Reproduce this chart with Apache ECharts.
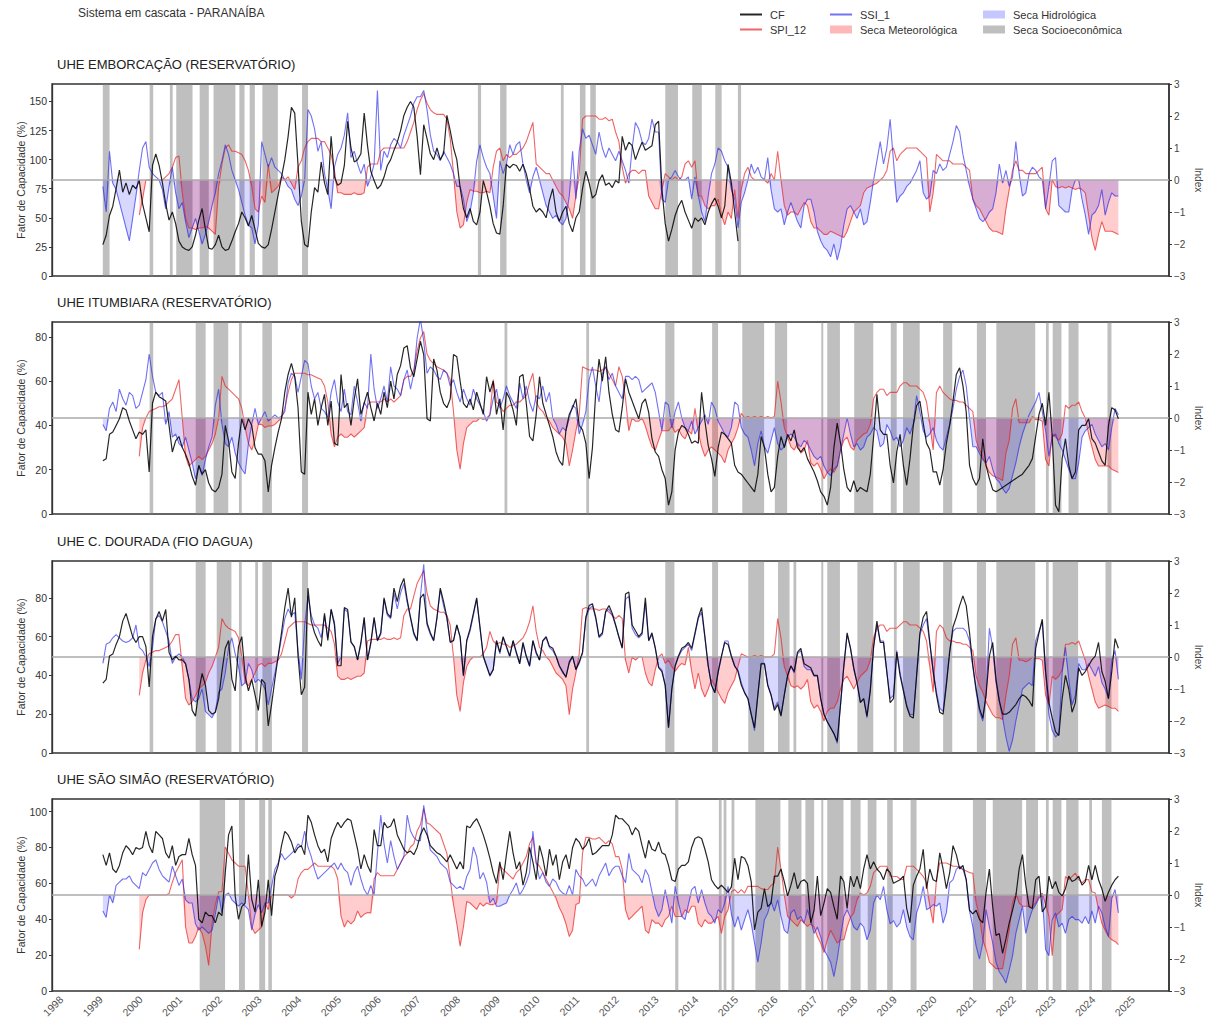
<!DOCTYPE html>
<html>
<head>
<meta charset="utf-8">
<title>Sistema em cascata - PARANAÍBA</title>
<script src="https://cdn.jsdelivr.net/npm/echarts@6/dist/echarts.min.js"></script>
<style>
  html, body { margin: 0; padding: 0; background: #ffffff; }
  #chart { width: 1218px; height: 1025px; }
</style>
</head>
<body>
<div id="chart"></div>
<script>
// ---------------------------------------------------------------------------
// Monthly series. CF and SSI_1 start Jan 1999, SPI_12 starts Dec 1999;
// all end Aug 2024 (Emborcação CF ends Jan 2015).
// ---------------------------------------------------------------------------

const xYears = [1998, 1999, 2000, 2001, 2002, 2003, 2004, 2005, 2006, 2007, 2008, 2009, 2010,
  2011, 2012, 2013, 2014, 2015, 2016, 2017, 2018, 2019, 2020, 2021, 2022, 2023, 2024, 2025];
const indexTicks = [-3, -2, -1, 0, 1, 2, 3];
const cfTicks1 = [0, 25, 50, 75, 100, 125, 150];
const cfTicks2 = [0, 20, 40, 60, 80];
const cfTicks3 = [0, 20, 40, 60, 80];
const cfTicks4 = [0, 20, 40, 60, 80, 100];

// UHE EMBORCAÇÃO
const p1Cf = [
  27,35,52,60,75,91,72,80,70,78,75,82,
  62,50,38,95,105,95,80,62,48,55,45,30,
  25,23,22,25,35,48,58,40,24,23,27,35,
  25,22,23,30,38,45,55,50,43,52,40,28,
  25,24,27,40,55,70,85,100,120,145,140,95,
  47,27,25,55,76,72,98,80,70,120,85,78,
  80,95,133,110,98,100,105,140,112,90,82,75,
  78,85,95,100,108,115,125,138,145,150,145,120,
  87,130,118,105,100,110,100,105,138,125,110,100,
  76,58,50,58,47,44,55,82,72,60,45,37,
  36,60,96,93,96,95,90,96,88,75,60,55,
  58,55,50,65,75,55,47,55,60,45,38,50,
  55,75,90,80,67,70,82,87,78,80,76,82,
  80,120,108,115,112,100,108,115,108,110,112,130,
  133,75,45,30,40,52,60,65,55,48,41,50,
  47,50,44,55,62,67,60,50,60,96,80,55,
  30
];
const p1Spi = [
  -1.1,
  -0.6,0.0,0.0,0.0,0.0,0.0,0.0,0.1,0.2,0.4,0.7,0.75,
  -0.4,-1.2,-1.5,-1.5,-1.55,-1.5,-1.5,-1.45,-1.5,-1.6,-1.7,-0.2,
  0.5,1.0,1.1,0.9,0.9,0.85,0.8,0.6,0.3,-0.2,-0.9,-1.0,
  -0.5,-0.7,0.5,-0.4,-0.3,-0.2,0.1,0.0,0.1,-0.1,-0.3,0.4,
  0.6,1.0,1.2,1.3,1.3,1.3,1.2,1.2,1.0,0.8,0.3,-0.4,
  -0.4,-0.45,-0.45,-0.45,-0.4,-0.45,-0.45,-0.4,0.4,0.5,0.5,0.5,
  0.9,1.0,1.0,1.0,1.0,1.0,1.0,1.0,1.2,1.5,1.8,2.2,
  2.5,2.7,2.4,2.2,2.1,2.05,2.05,2.05,1.9,1.3,0.2,-1.0,
  -1.5,-1.4,-0.7,-0.3,-0.35,-0.35,-0.4,-0.4,-0.35,-0.4,0.4,0.9,
  1.0,0.6,0.8,0.7,0.8,0.8,0.9,1.0,1.2,1.5,1.8,0.5,
  0.4,0.3,0.2,0.2,0.0,-0.2,-0.4,-0.5,-0.7,-0.9,-1.2,-0.5,
  0.2,1.9,2.0,2.0,2.0,2.0,1.9,1.9,1.95,1.85,1.9,1.5,
  1.2,0.4,-0.1,0.2,0.3,0.3,0.2,0.3,0.3,-0.5,-0.7,-0.9,
  -0.9,-0.3,0.2,0.1,0.0,0.1,0.0,0.1,0.5,0.6,0.4,0.6,
  -0.5,-0.5,-0.8,-0.9,-0.8,-0.8,-0.6,-1.1,-1.4,-1.0,-1.2,-0.3,
  -1.2,-0.3,0.2,0.4,0.1,0.0,0.0,0.0,0.0,-0.1,0.2,0.0,
  0.9,0.0,-0.8,-1.1,-1.0,-1.0,-1.1,-0.9,-0.7,-0.8,-1.3,-1.5,
  -1.5,-1.6,-1.7,-1.7,-1.6,-1.65,-1.7,-1.75,-1.8,-1.6,-1.3,-1.0,
  -0.9,-0.8,-0.4,-0.25,-0.2,-0.15,-0.1,0.0,0.1,0.3,0.9,1.0,
  0.6,0.8,0.9,1.0,1.0,1.0,1.0,0.9,0.8,0.7,-1.0,-0.4,
  0.8,0.7,0.6,0.6,0.6,0.5,0.5,0.5,0.5,0.4,0.3,-0.6,
  -0.8,-0.9,-1.1,-1.3,-1.5,-1.6,-1.6,-1.65,-1.7,-0.9,-0.3,0.3,
  0.6,0.3,0.3,0.2,0.2,0.2,0.2,0.3,0.4,-0.9,-1.1,0.0,
  -0.2,-0.25,-0.2,-0.25,-0.2,-0.25,-0.3,-0.25,-0.3,-0.4,-1.1,-1.8,
  -2.2,-1.7,-1.3,-1.6,-1.6,-1.6,-1.65,-1.7
];
const p1Ssi = [
  -0.2,-1.0,0.9,-0.1,-0.3,-0.7,-1.1,-1.5,-1.9,-1.2,-0.5,0.3,
  1.0,1.2,0.4,0.2,0.1,0.0,-0.3,-0.9,-0.2,0.4,-0.4,-0.9,
  -0.7,-1.3,-1.8,-1.5,-1.2,-1.6,-2.0,-1.7,-1.3,-0.8,-0.4,0.2,
  0.6,1.1,0.8,0.3,0.0,-0.3,-0.7,-1.1,-1.4,-1.5,-2.0,-1.4,
  1.2,0.8,0.4,0.7,0.4,0.3,0.2,0.0,-0.2,-0.3,-0.6,-0.8,
  -0.5,0.0,2.2,2.0,1.6,0.9,1.2,0.2,-0.3,-0.9,0.4,0.8,
  1.0,1.4,2.1,0.7,0.9,0.5,0.2,0.5,-0.2,0.1,0.5,2.8,
  0.3,0.9,0.7,1.1,1.3,1.2,1.0,1.4,1.7,2.0,2.4,2.6,
  2.6,2.8,2.2,1.4,0.9,0.8,0.6,0.9,0.7,0.5,0.2,-0.2,
  -0.2,-0.6,-1.3,-1.0,-0.4,0.6,1.1,0.7,0.4,0.2,-0.5,-1.2,
  0.6,0.2,0.5,1.1,0.8,1.1,1.2,0.5,0.0,-0.4,0.1,0.4,
  0.0,-0.4,-0.8,-1.0,-1.2,-1.1,-1.3,-1.4,-1.2,-0.5,0.9,-0.6,
  0.9,1.6,1.3,1.4,1.1,0.8,1.5,1.0,0.7,1.0,0.8,0.6,
  0.9,0.6,0.3,-0.1,1.0,1.8,1.6,1.2,1.1,1.3,1.9,1.5,
  1.5,-0.6,-0.7,0.0,0.1,0.3,0.1,0.0,0.0,0.1,-0.6,0.1,
  -0.5,-1.0,-1.3,-0.5,0.2,0.5,1.0,0.9,0.6,0.4,-0.3,-0.6,
  -1.5,-0.7,-0.4,0.0,0.5,0.2,0.4,0.1,0.0,0.7,-0.3,-0.9,
  -1.0,-0.9,-1.4,-1.0,-0.7,-1.0,-1.3,-1.5,-0.8,-0.6,-0.6,-1.0,
  -1.6,-1.9,-2.1,-2.2,-2.4,-2.0,-2.5,-2.1,-1.4,-0.9,-0.8,-1.0,
  -1.2,-0.9,-1.4,-1.3,-0.7,0.0,0.6,1.2,0.5,1.0,1.9,0.6,
  -0.7,-0.5,-0.4,-0.2,-0.1,0.1,0.3,0.6,-0.4,-0.6,-0.5,0.3,
  0.2,0.5,0.3,0.4,0.8,1.2,1.7,1.5,0.8,0.3,-0.2,-0.6,
  -0.9,-1.2,-1.3,-1.2,-1.0,-0.9,-0.4,0.5,-0.1,0.3,-0.2,0.1,
  1.2,0.2,-0.5,-0.4,0.2,0.4,0.3,0.1,0.0,-0.9,-0.2,0.6,
  0.7,-0.8,-0.9,-1.0,-1.0,-0.3,0.0,0.0,-0.6,-1.1,-1.7,-1.1,
  -1.0,-0.8,-0.3,-1.1,-0.7,-0.4,-0.5,-0.5
];
const p1Bands = [
  [1999.04,1999.21],[2000.22,2000.31],[2000.73,2000.80],[2000.89,2001.30],[2001.48,2001.71],
  [2001.83,2002.38],[2002.48,2002.61],[2002.74,2002.87],[2003.06,2003.45],[2004.06,2004.21],
  [2008.49,2008.57],[2009.05,2009.21],[2010.58,2010.65],[2011.06,2011.20],[2011.32,2011.46],
  [2013.21,2013.53],[2013.89,2014.13],[2014.47,2014.63],[2015.04,2015.12]
];

// UHE ITUMBIARA
const p2Cf = [
  24,25,36,37,40,43,48,47,42,38,34,37,
  36,38,19,50,55,53,52,51,40,28,33,35,
  30,27,23,17,13,22,18,20,14,11,10,12,
  18,40,33,19,16,32,43,38,43,40,30,27,
  27,24,10,22,30,37,43,55,63,68,62,48,
  19,18,55,45,52,40,48,54,40,51,32,31,
  63,48,50,40,52,61,45,50,55,48,42,50,
  45,55,48,60,52,63,67,75,76,66,62,70,
  78,72,43,42,70,65,55,50,48,52,72,71,
  60,50,48,52,47,55,50,45,62,55,60,45,
  52,38,55,52,47,40,62,63,50,35,33,45,
  62,50,45,40,35,28,24,22,38,45,48,52,
  40,38,32,16,30,55,70,60,71,55,45,38,
  37,48,61,55,51,47,43,50,52,46,34,28,
  26,20,16,4,10,29,37,40,39,36,32,33,
  32,55,42,31,25,17,30,37,36,34,32,22,
  19,18,16,14,12,10,18,35,30,18,10,12,
  26,35,30,36,33,38,30,28,30,25,22,19,
  15,10,8,4,12,30,41,32,20,12,10,15,
  10,12,11,10,18,35,54,38,36,36,22,14,
  28,36,22,13,25,40,49,51,41,32,29,19,
  19,13,20,32,40,51,63,66,58,46,22,16,
  13,16,34,22,16,11,10,11,12,13,14,15,
  16,17,18,20,22,25,35,45,50,40,55,35,
  4,1,25,34,22,16,19,38,40,40,43,34,
  32,28,24,22,40,48,47,43
];
const p2Spi = [
  -1.2,
  -0.3,0.0,0.2,0.25,0.3,0.35,0.35,0.4,0.5,0.6,0.9,1.2,
  0.0,-1.2,-1.5,-1.4,-1.3,-1.2,-1.3,-1.2,-1.0,-0.8,-0.5,0.0,
  1.3,1.0,0.9,0.8,0.7,0.6,0.3,-0.3,-0.8,-1.0,-0.7,-0.2,
  -0.2,-0.3,-0.25,-0.25,-0.2,-0.1,0.0,0.3,0.8,1.2,1.4,1.4,
  1.4,1.4,1.35,1.35,1.3,1.25,1.2,1.0,0.5,-0.5,-0.9,-0.6,
  -0.5,-0.6,-0.6,-0.5,-0.6,-0.5,-0.4,-0.3,0.4,0.5,0.5,0.5,
  0.5,0.6,0.5,0.6,0.5,0.6,0.7,1.2,1.3,1.3,1.5,2.1,
  2.5,2.7,2.0,1.8,1.7,1.6,1.55,1.5,1.4,1.2,0.2,-1.0,
  -1.6,-0.8,-0.3,-0.2,-0.1,-0.1,0.0,-0.05,0.0,0.1,1.2,0.5,
  0.4,0.2,0.3,0.4,0.4,0.5,0.5,0.6,0.7,1.1,1.4,0.5,
  0.3,0.2,0.0,-0.1,-0.3,-0.4,-0.5,-0.6,-0.8,-1.5,-1.0,-0.4,
  0.1,1.6,1.55,1.5,1.5,1.5,1.45,1.5,1.6,1.4,1.2,1.0,
  1.6,1.3,0.6,-0.4,0.0,-0.1,-0.1,0.0,-0.25,-0.6,-0.9,-1.0,
  -0.7,-0.4,-0.4,-0.4,-0.25,-0.45,-0.35,-0.55,-0.65,-0.4,-0.5,0.3,
  -0.45,-0.9,-1.2,-1.0,-0.9,-1.0,-1.1,-1.2,-1.4,-1.0,-0.8,-0.6,
  -0.3,0.15,0.0,0.05,0.0,0.05,0.0,0.05,0.0,0.05,0.0,0.05,
  1.15,0.5,-0.3,-0.6,-0.9,-1.0,-0.8,-1.1,-1.0,-0.7,-1.4,-1.5,
  -1.4,-1.6,-1.9,-1.7,-1.6,-1.7,-1.5,-1.0,-0.7,-0.6,-0.9,-1.0,
  -0.7,-0.6,-0.5,-0.45,-0.2,0.6,0.8,0.9,0.9,0.7,0.8,0.8,
  0.8,1.0,1.1,1.1,1.0,1.0,1.0,0.9,0.8,0.5,-0.2,-1.0,
  0.8,1.0,0.8,0.7,0.6,0.55,0.55,0.5,0.5,0.4,0.3,0.2,
  -0.7,-1.0,-1.2,-1.5,-1.7,-1.8,-1.85,-1.9,-1.95,-1.1,-0.7,0.3,
  0.6,-0.15,-0.15,-0.15,-0.15,0.05,-0.05,-0.05,-0.1,-1.3,-1.5,-0.5,
  -0.6,-0.7,-0.5,0.4,0.3,0.4,0.4,0.5,0.2,0.0,-0.5,-0.9,
  -1.3,-1.5,-1.5,-1.5,-1.5,-1.6,-1.65,-1.7
];
const p2Ssi = [
  -0.2,-0.4,0.3,0.5,0.2,0.9,0.6,0.4,0.8,0.7,0.3,0.4,
  0.8,1.2,2.0,1.3,0.8,0.7,0.8,-0.2,0.2,-0.6,-0.5,-0.8,
  -0.9,-0.6,-1.0,-1.4,-1.9,-1.5,-1.8,-1.3,-0.9,-0.6,0.4,0.9,
  -0.2,-0.8,-0.9,-0.6,-1.1,-1.4,-1.6,-1.75,-0.8,-0.2,0.3,-0.2,
  0.0,0.2,-0.1,0.0,0.1,0.0,0.05,0.2,1.1,1.4,1.3,0.8,
  1.3,1.8,1.7,1.0,0.6,0.8,0.3,0.2,0.0,0.8,1.2,0.5,
  0.2,0.9,0.2,0.1,1.0,0.5,-0.1,0.5,0.3,2.0,0.9,0.3,
  0.6,1.0,0.5,1.6,1.0,0.9,0.7,1.2,1.5,0.9,1.4,2.5,
  3.1,2.4,1.4,1.6,1.5,1.3,1.2,1.5,1.4,1.0,1.2,0.8,
  0.5,0.9,0.6,0.4,0.9,0.6,0.4,0.2,-0.1,0.1,0.6,0.9,
  0.3,0.6,1.0,0.7,0.5,0.3,1.1,0.6,1.0,0.5,0.2,0.7,
  0.6,1.0,0.5,0.8,0.0,-0.2,-0.5,-0.3,-0.4,0.0,0.4,0.3,
  -0.5,-0.2,0.2,1.2,1.6,1.0,0.5,1.4,1.6,1.2,1.4,1.0,
  0.8,0.6,1.3,1.3,1.2,1.3,1.2,0.8,0.9,1.0,1.1,0.8,
  0.2,-0.4,0.5,0.4,-0.3,0.2,0.5,0.0,-0.3,-0.4,-0.1,-0.5,
  -0.3,-0.1,0.1,-0.2,0.5,0.3,-0.1,-0.3,-0.5,-0.6,-0.3,0.5,
  0.4,-0.3,-0.5,-0.6,-1.0,-1.5,-0.8,-0.4,-0.9,-1.1,-0.7,-0.3,
  -0.8,-1.0,-0.9,-0.6,-0.5,-0.6,-0.8,-0.9,-0.7,-0.8,-1.0,-1.2,
  -1.3,-1.2,-1.5,-1.7,-1.8,-1.6,-1.5,-1.0,-0.5,0.0,-0.5,-0.9,
  -0.8,-1.0,-0.9,-0.6,-0.5,-0.3,-0.4,-0.9,-0.8,-0.2,-0.4,-0.7,
  -0.6,-0.9,-0.7,-0.3,-0.5,-0.2,0.7,0.2,-0.4,-0.6,-0.5,-0.3,
  -0.7,-0.9,-1.0,-0.6,-0.2,0.3,0.9,1.3,1.5,1.0,0.0,-0.9,
  -0.9,-1.1,-1.3,-1.4,-1.2,-1.6,-1.9,-2.0,-2.2,-2.35,-2.2,-1.8,
  -1.4,-0.9,-0.5,-0.2,0.1,0.3,0.5,0.8,0.2,-0.4,-1.2,-0.6,
  -0.5,-0.8,-1.0,-1.3,-1.6,-1.9,-1.9,-1.4,-0.6,-0.4,-0.3,-0.2,
  -0.5,-0.7,-0.9,-0.8,-1.0,-0.3,0.3,0.1
];
const p2Bands = [
  [2000.22,2000.31],[2001.38,2001.63],[2001.83,2002.20],[2002.47,2002.54],[2003.06,2003.30],
  [2004.06,2004.21],[2009.16,2009.23],[2011.22,2011.29],[2013.21,2013.44],[2014.39,2014.54],
  [2015.15,2015.70],[2015.97,2016.28],[2017.14,2017.19],[2017.29,2017.61],[2017.97,2018.45],
  [2018.89,2019.04],[2019.20,2019.62],[2020.21,2020.44],[2021.06,2021.29],[2021.55,2022.53],
  [2022.80,2022.87],[2022.97,2023.19],[2023.37,2023.62],[2024.35,2024.45]
];

// UHE C. DOURADA
const p3Cf = [
  36,38,50,51,56,60,68,72,66,60,57,60,
  60,55,34,60,69,73,68,74,52,48,50,48,
  48,46,38,22,19,32,41,35,22,20,21,28,
  42,54,58,38,32,55,60,40,32,38,30,22,
  38,36,14,25,38,50,62,75,85,70,80,50,
  30,34,85,68,62,58,55,72,58,74,66,45,
  45,75,74,57,55,48,57,70,48,57,70,58,
  62,80,72,70,85,78,86,90,79,70,62,58,
  80,82,67,62,58,70,85,78,70,57,58,66,
  60,40,58,64,72,80,65,50,45,40,43,58,
  52,60,55,50,58,52,46,57,50,45,58,52,
  48,58,60,55,54,50,45,42,39,47,50,43,
  47,52,70,76,77,70,60,62,73,76,72,66,
  60,54,82,83,66,63,60,62,80,58,62,54,
  44,42,35,13,33,45,50,54,55,57,54,62,
  70,75,60,45,35,31,42,50,57,56,50,45,
  42,35,31,28,20,13,30,46,46,35,30,22,
  25,19,30,40,45,42,52,54,46,45,44,40,
  40,28,20,16,13,10,6,25,45,62,54,44,
  36,26,28,19,32,55,68,57,57,42,26,28,
  52,40,32,24,19,18,40,62,70,73,57,42,
  30,21,20,35,52,65,70,76,81,76,62,45,
  33,23,18,30,50,57,38,27,20,20,21,23,
  25,28,30,29,27,24,54,62,69,42,26,18,
  11,9,28,40,33,21,26,44,40,42,45,48,
  50,57,42,37,28,42,59,54
];
const p3Spi = [
  -1.2,
  -0.5,-0.1,0.1,0.15,0.2,0.2,0.25,0.3,0.35,0.5,0.7,0.7,
  -0.3,-1.3,-1.5,-1.4,-1.2,-1.0,-0.9,-0.8,-0.5,-0.3,0.0,0.3,
  1.2,1.0,0.9,0.85,0.8,0.6,0.0,-0.8,-0.9,-0.7,-0.5,-0.25,
  -0.2,-0.3,-0.2,-0.2,-0.15,-0.1,0.1,0.5,0.9,1.0,1.1,1.1,
  1.1,1.1,1.05,1.0,1.0,1.0,1.0,1.0,0.9,0.8,0.4,-0.6,
  -0.7,-0.7,-0.65,-0.7,-0.65,-0.6,-0.6,-0.5,0.5,0.55,0.55,0.55,
  0.55,0.6,0.55,0.55,0.6,0.55,0.6,1.3,1.5,1.5,1.9,2.3,
  2.5,2.7,2.0,1.6,1.5,1.45,1.4,1.4,1.3,1.0,0.0,-1.2,
  -1.7,-0.8,-0.3,-0.1,0.0,0.0,0.0,0.1,0.3,0.8,0.5,0.4,
  0.45,0.4,0.4,0.3,0.35,0.4,0.5,0.6,0.8,1.1,1.6,0.8,
  0.3,0.2,0.0,-0.1,-0.3,-0.5,-0.6,-0.7,-0.9,-1.8,-1.0,-0.5,
  0.1,1.5,1.55,1.5,1.5,1.5,1.45,1.5,1.5,1.4,1.3,1.2,
  1.3,1.2,-0.1,-0.5,0.0,-0.1,0.0,0.0,-0.5,-0.8,-0.9,-0.4,
  0.0,0.1,-0.2,-0.1,-0.3,-0.45,-0.3,-0.2,-0.25,0.3,-0.45,-1.0,
  -0.5,-1.0,-1.25,-1.0,-0.7,-0.9,-1.1,-1.3,-1.45,-1.1,-0.9,-0.7,
  -0.3,0.1,0.05,0.0,0.0,0.05,0.0,0.05,0.0,0.0,0.0,0.1,
  1.2,0.6,-0.3,-0.6,-0.9,-0.95,-0.9,-1.0,-0.9,-0.7,-1.4,-1.6,
  -1.5,-1.7,-2.0,-1.7,-1.6,-1.6,-1.4,-1.0,-0.7,-0.6,-0.8,-1.0,
  -0.8,-0.6,-0.5,-0.4,-0.1,0.6,0.9,1.0,1.0,0.8,0.9,0.9,
  0.9,1.0,1.1,1.1,1.0,1.0,1.0,0.9,0.8,0.5,-0.3,-1.1,
  0.8,1.0,0.9,0.6,0.5,0.5,0.45,0.45,0.4,0.4,0.3,0.2,
  -0.6,-0.9,-1.1,-1.4,-1.6,-1.8,-1.9,-1.9,-1.95,-1.2,-0.6,0.4,
  0.6,-0.1,-0.1,-0.15,-0.1,0.0,-0.05,-0.05,-0.1,-1.2,-1.5,-0.6,
  -0.7,-0.6,-0.4,0.4,0.4,0.45,0.4,0.5,0.2,-0.1,-0.6,-1.0,
  -1.4,-1.6,-1.55,-1.5,-1.55,-1.6,-1.6,-1.7
];
const p3Ssi = [
  -0.2,0.4,0.45,0.6,0.7,0.6,0.5,0.45,0.5,0.6,1.0,0.3,
  0.2,0.0,-0.3,0.3,1.2,1.3,1.1,0.8,0.5,-0.2,0.0,0.1,
  0.0,-0.2,-0.7,-1.3,-1.4,-1.3,-1.0,-1.7,-1.8,-1.9,-1.7,-1.1,
  -1.0,-0.5,0.3,0.6,0.1,-0.3,-0.9,-0.8,-0.2,-0.4,-0.8,-0.7,
  -0.8,-1.0,-1.5,-1.0,-0.5,0.0,0.6,1.2,1.5,1.3,1.4,0.2,
  -0.7,1.0,1.9,1.3,1.0,0.9,0.6,1.3,0.6,1.5,1.1,-0.2,
  0.0,1.5,1.4,0.5,0.3,-0.1,0.4,1.2,-0.1,0.4,1.2,0.5,
  0.7,1.8,1.3,1.2,2.0,1.5,2.0,2.3,1.7,1.2,0.7,0.5,
  1.9,2.9,1.0,0.7,0.5,1.2,2.1,1.6,1.2,0.5,0.5,1.0,
  0.6,-0.6,0.5,0.8,1.3,1.8,0.9,0.0,-0.3,-0.6,-0.4,0.5,
  0.1,0.6,0.3,0.0,0.5,0.1,-0.2,0.4,0.0,-0.3,0.5,0.1,
  -0.1,0.5,0.6,0.3,0.2,0.0,-0.3,-0.5,-0.6,-0.2,0.0,-0.4,
  -0.2,0.1,1.2,1.5,1.6,1.2,0.6,0.7,1.4,1.5,1.3,1.0,
  0.6,0.3,1.8,1.9,0.9,0.7,0.6,0.7,1.7,0.5,0.7,0.3,
  -0.3,-0.4,-0.9,-2.2,-1.0,-0.3,0.0,0.2,0.3,0.4,0.2,0.7,
  1.2,1.4,0.6,-0.3,-0.9,-1.1,-0.5,0.0,0.5,0.5,0.0,-0.3,
  -0.4,-0.8,-1.1,-1.3,-1.8,-2.3,-1.2,-0.2,-0.2,-0.9,-1.2,-1.6,
  -1.4,-1.8,-1.2,-0.6,-0.3,-0.5,0.1,0.2,-0.3,-0.4,-0.4,-0.6,
  -0.6,-1.3,-1.8,-2.0,-2.2,-2.4,-2.7,-1.5,-0.3,0.7,0.3,-0.4,
  -0.8,-1.4,-1.3,-1.9,-1.0,0.3,1.0,0.5,0.5,-0.5,-1.3,-1.2,
  0.2,-0.5,-1.0,-1.5,-1.8,-1.8,-0.6,0.7,1.0,1.2,0.4,-0.4,
  -1.1,-1.6,-1.7,-0.8,0.2,0.8,0.9,0.9,0.9,0.8,0.5,-0.3,
  -1.1,-1.7,-2.0,-1.2,0.9,0.3,-0.8,-1.4,-1.9,-2.5,-2.95,-2.6,
  -2.0,-1.5,-1.0,-0.9,-0.8,-0.9,0.5,0.8,1.1,-0.6,-1.8,-2.3,
  -2.5,-2.4,-0.5,0.3,-0.7,-1.5,-1.2,-0.2,-0.4,-0.4,-0.2,-0.4,
  -0.6,-0.3,-0.8,-1.0,-1.3,-0.1,0.2,-0.7
];
const p3Bands = [
  [2000.22,2000.31],[2001.38,2001.63],[2001.91,2002.28],[2002.47,2002.54],[2002.88,2002.95],
  [2003.06,2003.30],[2004.06,2004.21],[2011.22,2011.29],[2013.21,2013.44],[2014.39,2014.54],
  [2015.30,2015.70],[2016.05,2016.34],[2016.44,2016.51],[2017.14,2017.19],[2017.29,2017.61],
  [2018.05,2018.45],[2018.97,2019.04],[2019.20,2019.62],[2020.21,2020.44],[2021.06,2021.29],
  [2021.55,2022.53],[2022.80,2022.87],[2022.97,2023.61],[2024.30,2024.45]
];

// UHE SÃO SIMÃO
const p4Cf = [
  76,70,77,68,66,70,77,81,79,76,80,79,
  80,89,81,77,89,87,85,77,74,81,70,75,
  76,76,85,76,70,40,38,44,42,42,38,44,
  42,66,87,92,53,40,47,49,76,51,44,62,
  36,44,62,42,64,70,81,89,87,83,77,80,
  81,76,98,94,87,81,77,79,72,85,90,94,
  91,94,96,95,87,79,68,76,70,66,90,81,
  81,94,91,92,96,87,83,79,77,78,76,80,
  87,91,87,81,79,77,76,74,72,76,72,68,
  72,68,92,91,94,96,92,87,81,74,66,60,
  72,62,76,89,77,68,72,59,66,80,72,62,
  81,74,64,79,70,76,62,72,76,68,80,85,
  83,79,81,85,76,77,79,81,81,81,87,98,
  96,96,94,92,87,91,89,81,74,84,79,78,
  83,77,76,70,62,61,68,70,70,72,80,85,
  86,85,79,72,62,59,57,59,57,55,58,74,
  62,75,74,70,61,34,44,46,57,47,49,64,
  64,68,61,53,59,66,57,61,62,60,38,45,
  64,42,49,57,55,47,40,64,61,46,64,58,
  64,57,68,76,68,72,68,66,62,68,66,60,
  61,62,64,46,38,59,64,68,79,57,68,62,
  61,77,68,57,66,81,76,68,70,62,45,43,
  45,40,38,55,68,47,31,32,21,29,38,45,
  53,68,76,59,47,46,62,64,44,47,64,57,
  61,55,53,57,64,61,62,64,59,61,70,62,
  70,62,57,50,55,59,62,64
];
const p4Spi = [
  -1.7,
  -0.56,-0.15,0.0,0.0,0.0,0.0,0.0,0.0,0.05,0.4,0.7,0.9,
  1.1,-1.0,-1.5,-1.5,-1.3,-1.0,-1.2,-1.6,-2.2,-0.9,-0.3,0.1,
  0.1,1.5,1.3,1.1,1.0,0.9,0.9,0.9,0.0,-1.0,-1.2,-1.1,
  -1.0,-0.25,-0.46,0.0,0.0,0.0,0.0,0.0,0.0,-0.1,0.0,0.5,
  0.7,0.8,0.8,0.9,1.0,0.9,0.9,0.9,0.9,0.9,0.8,0.5,
  -0.67,-1.0,-0.8,-0.9,-0.8,-0.5,-0.7,-0.6,-0.55,-0.56,0.5,0.7,
  0.6,0.6,0.6,0.6,0.6,0.8,1.0,1.2,1.3,1.5,1.6,2.0,
  2.2,2.7,2.25,2.2,2.1,2.0,1.9,1.6,1.3,0.5,-0.3,-0.9,
  -1.6,-1.0,-0.2,-0.25,-0.35,-0.45,-0.25,-0.35,-0.25,-0.3,-0.3,-0.25,
  0.9,0.8,0.7,0.6,0.5,0.7,0.8,1.0,1.2,1.6,1.8,1.0,
  0.9,0.7,0.5,0.3,0.1,-0.1,-0.4,-0.6,-0.9,-1.3,-1.1,-0.3,
  -0.25,1.3,1.8,1.8,1.75,1.75,1.8,1.7,1.6,1.7,1.6,1.2,
  1.2,0.8,-0.46,-0.77,-0.67,-0.56,-0.46,-0.35,-1.1,-1.2,-0.77,-0.88,
  -0.88,-1.0,-0.77,-0.67,-0.35,-0.67,-0.67,-0.67,-0.46,-0.56,-0.35,-0.35,
  -0.88,-1.0,-0.77,-0.88,-0.88,-0.77,-0.67,-1.2,-0.67,-0.46,0.1,0.17,
  0.06,0.17,0.06,0.27,0.27,0.27,0.27,0.2,0.17,0.17,0.3,0.38,
  1.5,0.8,0.0,-0.67,-0.77,-0.88,-0.98,-0.77,-0.88,-0.98,-0.9,-1.0,
  -1.3,-1.5,-1.8,-1.4,-1.1,-1.3,-1.5,-1.4,-1.4,-1.0,-0.7,-0.56,
  -0.15,0.06,0.0,0.06,0.27,0.7,0.8,0.9,0.9,0.9,0.6,0.58,
  0.58,0.5,0.48,0.9,0.9,0.9,0.8,0.7,0.58,0.38,-0.35,-0.88,
  0.48,1.0,1.0,1.0,0.95,0.9,0.9,0.85,0.8,0.75,0.7,0.68,
  -0.25,-0.67,-1.4,-1.7,-2.1,-2.2,-2.3,-2.3,-2.3,-1.7,-1.1,-0.25,
  0.06,-0.25,-0.35,-0.35,-0.35,-0.35,-0.25,-0.04,0.06,-0.3,-0.67,-1.9,
  -0.67,-0.56,-0.46,0.58,0.48,0.58,0.68,0.48,0.38,0.48,0.48,0.1,
  0.06,-0.46,-0.88,-1.1,-1.3,-1.4,-1.45,-1.55
];
const p4Ssi = [
  -0.5,-0.7,0.0,-0.25,0.3,0.4,0.5,0.5,0.6,0.4,0.3,0.2,
  0.7,0.6,0.8,1.0,1.1,0.8,0.6,0.5,0.4,0.9,0.6,0.3,
  0.5,-0.15,-0.25,-0.25,-0.9,-1.1,-1.0,-1.1,-1.2,-1.1,-0.6,0.0,
  -0.56,0.0,0.06,-0.15,-0.25,-0.35,-0.25,-0.35,-0.46,-1.1,-0.6,-0.3,
  -0.56,-0.25,-0.25,0.27,0.8,1.0,1.3,1.1,1.2,1.3,1.4,1.6,
  1.5,2.0,1.5,1.2,0.8,0.5,0.6,0.7,0.8,0.9,1.0,0.8,
  1.0,0.8,0.7,0.3,0.7,0.9,0.5,0.17,0.0,0.3,0.0,1.3,
  2.5,1.6,1.0,1.7,1.2,0.8,1.0,1.2,2.5,2.0,1.8,1.7,
  1.7,2.8,2.0,1.4,1.3,1.2,1.0,0.9,0.8,0.4,0.3,0.2,
  0.27,0.17,0.58,0.8,1.5,1.2,0.5,0.7,0.4,-0.25,-0.1,-0.35,
  -0.35,-0.3,-0.25,0.0,0.17,0.38,0.0,0.17,0.4,0.7,2.0,1.0,
  0.5,0.7,0.4,0.27,0.5,0.4,0.17,0.06,0.0,0.3,0.0,0.8,
  0.6,0.5,0.27,0.38,0.5,0.27,0.6,0.8,1.0,0.6,0.8,0.9,
  0.9,0.6,0.38,1.3,0.8,0.7,0.6,0.38,0.8,0.6,0.1,-0.4,
  -0.67,-0.46,0.17,-0.35,-0.88,0.27,-0.25,-0.67,-0.77,-0.3,0.17,0.27,
  -0.25,0.17,-0.25,-0.56,-0.67,-0.88,-0.46,-0.56,-0.25,0.27,-0.6,-1.0,
  -0.67,-1.1,-0.77,-0.46,-0.88,-1.5,-2.1,-1.5,-0.77,-0.56,-0.2,-0.5,
  -0.15,-0.67,-1.1,-1.2,-0.56,-0.46,-0.77,-0.67,-0.88,-0.46,-0.8,-1.2,
  -1.0,-1.3,-1.7,-1.9,-2.1,-2.55,-2.0,-1.3,-0.67,-0.46,-0.7,-1.0,
  -1.1,-0.88,-1.0,-1.4,-1.1,-0.25,0.0,-0.15,0.27,-0.46,-0.9,-0.8,
  -1.0,-0.88,-0.46,-1.0,-1.3,-1.4,-0.56,-0.25,0.27,-0.46,-0.4,-0.3,
  -0.35,-0.25,-0.88,-0.56,0.38,0.48,0.8,0.9,0.8,0.48,-0.5,-1.0,
  -1.6,-2.0,-1.5,-0.46,-1.0,-1.5,-2.1,-2.4,-2.55,-2.75,-2.35,-1.9,
  -1.2,-0.77,-0.35,-1.2,-0.77,-0.46,-0.3,-0.1,0.0,-1.7,-1.9,-0.77,
  -0.56,-1.0,-0.88,-1.2,-0.77,-0.67,-0.77,-0.77,-0.88,-0.67,-0.9,-0.5,
  -0.88,-0.35,-0.56,-1.0,-1.3,-0.1,0.17,-0.56
];
const p4Bands = [
  [2001.48,2002.12],[2002.47,2002.62],[2002.98,2003.13],[2003.21,2003.30],[2013.46,2013.54],
  [2014.56,2014.63],[2014.68,2014.75],[2014.88,2014.95],[2015.48,2016.11],[2016.31,2016.64],
  [2016.74,2016.96],[2017.14,2017.19],[2017.29,2017.70],[2017.88,2018.13],[2018.31,2018.53],
  [2018.80,2018.94],[2019.39,2019.54],[2020.96,2021.29],[2021.46,2022.20],[2022.30,2022.60],
  [2022.80,2022.87],[2022.97,2023.19],[2023.31,2023.62],[2023.89,2023.96],[2024.21,2024.45]
];

// ---------------------------------------------------------------------------
// Layout and styling
// ---------------------------------------------------------------------------
const FONT = "'Liberation Sans', Arial, Helvetica, sans-serif";
const CF_COLOR = 'rgba(0,0,0,0.85)';
const SPI_COLOR = 'rgba(232,30,30,0.68)';
const SSI_COLOR = 'rgba(35,35,235,0.64)';
const SPI_FILL = 'rgba(255,0,0,0.28)';
const SSI_FILL = 'rgba(0,0,255,0.22)';
const BAND_FILL = 'rgba(128,128,128,0.5)';
const X_MIN = 1997.76, X_MAX = 2025.90;

const panels = [
  { title: 'UHE EMBORCAÇÃO (RESERVATÓRIO)', top: 84, cfMax: 165, cfTicks: cfTicks1, cf: p1Cf, spi: p1Spi, ssi: p1Ssi, bands: p1Bands },
  { title: 'UHE ITUMBIARA (RESERVATÓRIO)', top: 322, cfMax: 86.7, cfTicks: cfTicks2, cf: p2Cf, spi: p2Spi, ssi: p2Ssi, bands: p2Bands },
  { title: 'UHE C. DOURADA (FIO DAGUA)', top: 561, cfMax: 99, cfTicks: cfTicks3, cf: p3Cf, spi: p3Spi, ssi: p3Ssi, bands: p3Bands },
  { title: 'UHE SÃO SIMÃO (RESERVATÓRIO)', top: 799, cfMax: 107, cfTicks: cfTicks4, cf: p4Cf, spi: p4Spi, ssi: p4Ssi, bands: p4Bands }
];
const PANEL_H = 192;

// monthly values -> [decimal year (mid-month), value]
function monthly(values, startYear, startMonth) {
  return values.map((v, i) => [startYear + (startMonth + i + 0.5) / 12, v]);
}
function belowZero(points) {
  return points.map(p => [p[0], Math.min(p[1], 0)]);
}
const minus = v => String(v).replace('-', '\u2212');

const grids = [], xAxes = [], yAxes = [], series = [];
const titles = [{
  text: 'Sistema em cascata - PARANAÍBA', left: 78, top: 7, padding: 0,
  textStyle: { fontFamily: FONT, fontSize: 12, fontWeight: 'normal', color: '#333' }
}];

panels.forEach((p, i) => {
  titles.push({
    text: p.title, left: 57, top: p.top - 26, padding: 0,
    textStyle: { fontFamily: FONT, fontSize: 13, fontWeight: 'normal', color: '#222' }
  });
  grids.push({ left: 52, right: 49, top: p.top, height: PANEL_H, show: true,
    borderColor: '#333', borderWidth: 1.3, backgroundColor: 'rgba(0,0,0,0)' });
  const bottom = i === panels.length - 1;
  xAxes.push({
    gridIndex: i, type: 'value', min: X_MIN, max: X_MAX,
    axisLine: { show: false }, splitLine: { show: false },
    axisTick: { show: false },
    axisLabel: bottom ? {
      show: true, customValues: xYears, rotate: 45, margin: 7,
      fontFamily: FONT, fontSize: 10.5, color: '#555', formatter: v => String(Math.round(v))
    } : { show: false }
  });
  yAxes.push({
    gridIndex: i, type: 'value', position: 'left', min: 0, max: p.cfMax,
    name: 'Fator de Capacidade (%)', nameLocation: 'middle', nameRotate: 90,
    nameGap: 26, nameMoveOverlap: false,
    nameTextStyle: { fontFamily: FONT, fontSize: 10.5, color: '#333' },
    axisLine: { show: true, lineStyle: { color: '#333', width: 1.3 } },
    axisTick: { show: true, customValues: p.cfTicks, length: 3, lineStyle: { color: '#333' } },
    axisLabel: { customValues: p.cfTicks, fontFamily: FONT, fontSize: 10.5, color: '#333', margin: 5 },
    splitLine: { show: false }
  });
  yAxes.push({
    gridIndex: i, type: 'value', position: 'right', min: -3, max: 3, interval: 1,
    name: 'Index', nameLocation: 'middle', nameRotate: -90,
    nameGap: 24, nameMoveOverlap: false,
    nameTextStyle: { fontFamily: FONT, fontSize: 10, color: '#444' },
    axisLine: { show: true, lineStyle: { color: '#333', width: 1.6 } },
    axisTick: { show: true, length: 3, lineStyle: { color: '#333' } },
    axisLabel: { fontFamily: FONT, fontSize: 10, color: '#444', margin: 5, formatter: minus },
    splitLine: { show: false }
  });

  const left = 2 * i, right = 2 * i + 1;
  const spiPts = monthly(p.spi, 1999, 11);
  const ssiPts = monthly(p.ssi, 1999, 0);
  const cfPts = monthly(p.cf, 1999, 0);

  series.push({
    type: 'line', name: 'Seca Socioeconômica', xAxisIndex: i, yAxisIndex: right,
    data: [], silent: true, z: 1, itemStyle: { color: BAND_FILL },
    markArea: { silent: true, itemStyle: { color: BAND_FILL, borderWidth: 0 },
      data: p.bands.map(b => [{ xAxis: b[0] }, { xAxis: b[1] }]) }
  });
  series.push({
    type: 'line', name: 'Seca Meteorológica', xAxisIndex: i, yAxisIndex: right,
    data: belowZero(spiPts), symbol: 'none', silent: true, z: 2,
    lineStyle: { width: 0 }, itemStyle: { color: SPI_FILL }, areaStyle: { color: SPI_FILL, origin: 'auto' }
  });
  series.push({
    type: 'line', name: 'Seca Hidrológica', xAxisIndex: i, yAxisIndex: right,
    data: belowZero(ssiPts), symbol: 'none', silent: true, z: 2,
    lineStyle: { width: 0 }, itemStyle: { color: SSI_FILL }, areaStyle: { color: SSI_FILL, origin: 'auto' },
    markLine: { silent: true, symbol: ['none', 'none'], label: { show: false },
      lineStyle: { color: '#aaaaaa', width: 1.5, type: 'solid' }, data: [{ yAxis: 0 }] }
  });
  series.push({
    type: 'line', name: 'SPI_12', xAxisIndex: i, yAxisIndex: right, data: spiPts,
    symbol: 'none', silent: true, z: 3,
    lineStyle: { color: SPI_COLOR, width: 1.1 }, itemStyle: { color: SPI_COLOR }
  });
  series.push({
    type: 'line', name: 'SSI_1', xAxisIndex: i, yAxisIndex: right, data: ssiPts,
    symbol: 'none', silent: true, z: 4,
    lineStyle: { color: SSI_COLOR, width: 1.1 }, itemStyle: { color: SSI_COLOR }
  });
  series.push({
    type: 'line', name: 'CF', xAxisIndex: i, yAxisIndex: left, data: cfPts,
    symbol: 'none', silent: true, z: 5,
    lineStyle: { color: CF_COLOR, width: 1.2 }, itemStyle: { color: CF_COLOR }
  });
});

// one legend block per entry, laid out in three columns of two rows
const legendEntries = [
  { name: 'CF', color: CF_COLOR, line: true, col: 0, row: 0 },
  { name: 'SPI_12', color: SPI_COLOR, line: true, col: 0, row: 1 },
  { name: 'SSI_1', color: SSI_COLOR, line: true, col: 1, row: 0 },
  { name: 'Seca Meteorológica', color: SPI_FILL, line: false, col: 1, row: 1 },
  { name: 'Seca Hidrológica', color: SSI_FILL, line: false, col: 2, row: 0 },
  { name: 'Seca Socioeconômica', color: BAND_FILL, line: false, col: 2, row: 1 }
];
const legendCols = [740, 830, 983];
const legendRows = [14.5, 29.5];
const legends = legendEntries.map(e => ({
  orient: 'horizontal', padding: 0, selectedMode: false,
  left: legendCols[e.col], top: legendRows[e.row] - 6.5,
  itemWidth: 22, itemHeight: e.line ? 2 : 8,
  textStyle: { fontFamily: FONT, fontSize: 11, color: '#333', lineHeight: 13, padding: [0, 0, 0, 3] },
  data: [{ name: e.name, icon: 'rect', itemStyle: { color: e.color, borderWidth: 0 } }]
}));

const chart = echarts.init(document.getElementById('chart'), null, { renderer: 'svg' });
chart.setOption({
  animation: false,
  backgroundColor: '#ffffff',
  textStyle: { fontFamily: FONT },
  title: titles,
  legend: legends,
  grid: grids,
  xAxis: xAxes,
  yAxis: yAxes,
  series: series
});
</script>
</body>
</html>
